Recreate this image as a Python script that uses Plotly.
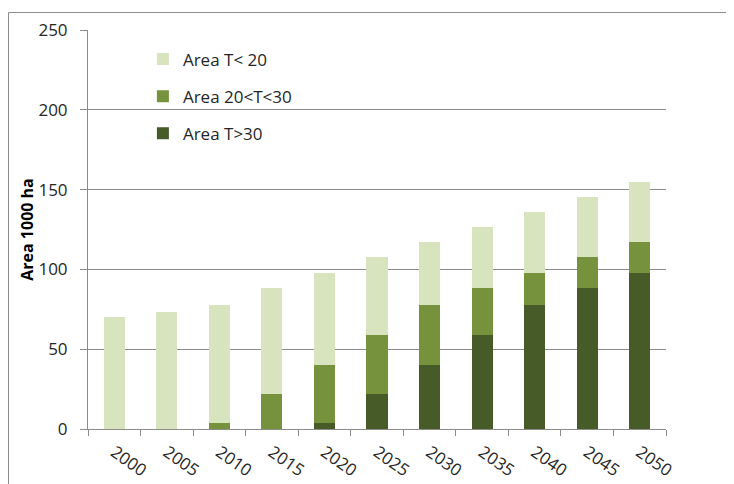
import plotly.graph_objects as go

years = ["2000", "2005", "2010", "2015", "2020", "2025", "2030", "2035", "2040", "2045", "2050"]
area_t_gt30 = [0, 0, 0, 0, 3.5, 22, 40.2, 58.7, 77.5, 88.5, 98]
area_20_30 = [0, 0, 3.5, 22, 36.7, 36.7, 37.3, 29.8, 20.5, 19.2, 19.3]
area_t_lt20 = [70, 73.5, 74, 66.5, 57.8, 48.8, 39.5, 38, 38, 37.8, 37.7]

series = [
    ("Area T>30", area_t_gt30, "#475B29", "g3", 3),
    ("Area 20<T<30", area_20_30, "#76923C", "g2", 2),
    ("Area T< 20", area_t_lt20, "#D7E4BD", "g1", 1),
]

FONT = "Open Sans, Liberation Sans, sans-serif"

# page body has an 8px margin; figure placed at (8, 8)
W, H = 726, 476
L, T = 80, 21.5
PW, PH = 578, 399.5

fig = go.Figure()
for name, vals, col, grp, rank in series:
    fig.add_trace(go.Bar(
        x=years, y=vals, name=name, marker=dict(color=col, line=dict(width=0)),
        width=0.4, legendgroup=grp, legendrank=rank,
    ))

fig.update_layout(
    width=W, height=H,
    margin=dict(l=L, r=W - L - PW, t=T, b=H - T - PH, autoexpand=False),
    barmode="stack",
    plot_bgcolor="white", paper_bgcolor="white",
    font=dict(family=FONT, size=17, color="#262626"),
    showlegend=True,
    legend=dict(
        x=0.095, y=0.971, xanchor="left", yanchor="top",
        traceorder="grouped", tracegroupgap=12,
        bgcolor="rgba(0,0,0,0)", font=dict(size=17, color="#262626"),
        itemwidth=30,
    ),
    xaxis=dict(
        type="category", tickson="boundaries", tickangle=35,
        showline=True, linecolor="#8C8C8C", linewidth=1,
        ticks="outside", ticklen=6, tickcolor="#8C8C8C",
        showgrid=False, tickfont=dict(size=17), ticklabelstandoff=6,
    ),
    yaxis=dict(
        range=[0, 250], dtick=50,
        showline=True, linecolor="#8C8C8C", linewidth=1,
        ticks="outside", ticklen=7, tickcolor="#8C8C8C",
        showgrid=True, gridcolor="#8C8C8C", gridwidth=1,
        zeroline=False, tickfont=dict(size=17), ticklabelstandoff=9,
        title=dict(text="<b>Area 1000 ha</b>", font=dict(size=16, color="#000000"), standoff=0),
    ),
    shapes=[dict(
        type="rect", xref="paper", yref="paper",
        x0=(0.5 - L) / PW, x1=2.0, y0=-1.0, y1=(T + PH - 4) / PH,
        line=dict(color="#8C8C8C", width=1), fillcolor="rgba(0,0,0,0)", layer="below",
    )],
)

fig.write_html("out.html")
